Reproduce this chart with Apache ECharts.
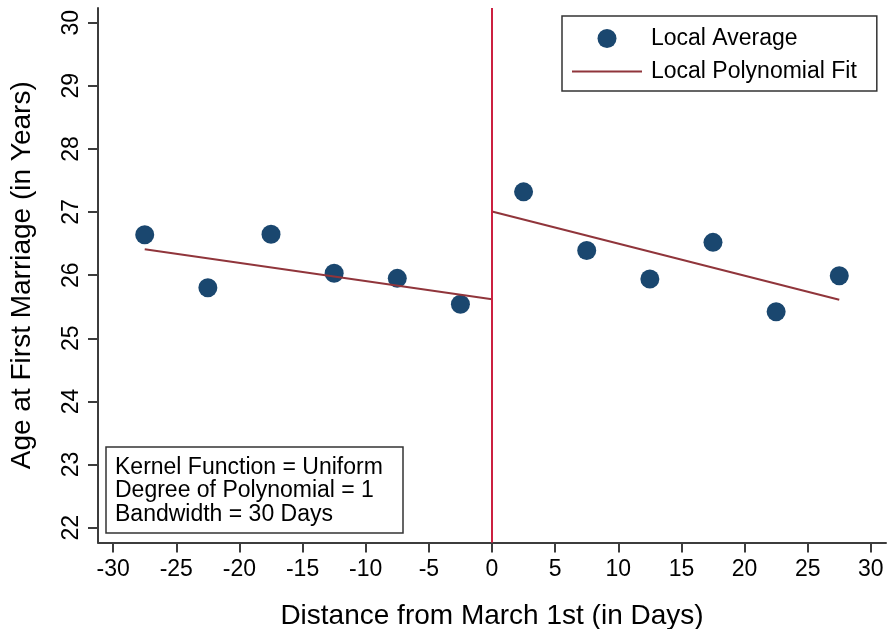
<!DOCTYPE html>
<html>
<head>
<meta charset="utf-8">
<script src="https://cdn.jsdelivr.net/npm/echarts@6/dist/echarts.min.js"></script>
<style>
  html, body { margin: 0; padding: 0; background: #fff; }
  #chart { width: 889px; height: 629px; }
</style>
</head>
<body>
<div id="chart"></div>
<script>
// Bin centres (days from March 1st) and the local averages of age at first marriage
const binCenters = [-27.5, -22.5, -17.5, -12.5, -7.5, -2.5, 2.5, 7.5, 12.5, 17.5, 22.5, 27.5];
const localAverages = [26.64, 25.80, 26.65, 26.03, 25.95, 25.54, 27.32, 26.39, 25.94, 26.52, 25.42, 25.99];

// Linear fits on each side of the cutoff
const fitLeftX = [-27.5, 0];
const fitLeftY = [26.41, 25.62];
const fitRightX = [0, 27.5];
const fitRightY = [27.01, 25.61];

const cutoff = 0;

// Tick labels
const xTicks = [-30, -25, -20, -15, -10, -5, 0, 5, 10, 15, 20, 25, 30];
const yTicks = [22, 23, 24, 25, 26, 27, 28, 29, 30];

const noteLines = ['Kernel Function = Uniform', 'Degree of Polynomial = 1', 'Bandwidth = 30 Days'];

const FONT = "'Liberation Sans', Arial, Helvetica, sans-serif";
const AXIS_COLOR = '#3c3c3c';
const DOT_COLOR = '#1a476f';
const FIT_COLOR = '#90353b';
const CUT_COLOR = '#cc2040';

const zip = (xs, ys) => xs.map((x, i) => [x, ys[i]]);

const chart = echarts.init(document.getElementById('chart'), null, { renderer: 'canvas' });

chart.setOption({
  animation: false,
  backgroundColor: '#fff',
  textStyle: { fontFamily: FONT },
  grid: { left: 98, right: 3, top: 8, bottom: 86.5, containLabel: false, outerBoundsMode: 'none' },
  xAxis: {
    type: 'value',
    min: -31.2,
    max: 31.2,
    name: 'Distance from March 1st (in Days)',
    nameLocation: 'middle',
    nameGap: 60,
    nameTextStyle: { fontSize: 28, color: '#000', fontFamily: FONT },
    axisLine: { onZero: false, lineStyle: { color: AXIS_COLOR, width: 2 } },
    axisTick: { show: true, length: 10, customValues: xTicks, lineStyle: { color: AXIS_COLOR, width: 2 } },
    axisLabel: { customValues: xTicks, fontSize: 23, color: '#000', margin: 16, fontFamily: FONT },
    splitLine: { show: false }
  },
  yAxis: {
    type: 'value',
    min: 21.765,
    max: 30.233,
    name: 'Age at First Marriage (in Years)',
    nameLocation: 'middle',
    nameGap: 62,
    nameRotate: 90,
    nameTextStyle: { fontSize: 28, color: '#000', fontFamily: FONT },
    axisLine: { show: true, onZero: false, lineStyle: { color: AXIS_COLOR, width: 2 } },
    axisTick: { show: true, length: 10, customValues: yTicks, lineStyle: { color: AXIS_COLOR, width: 2 } },
    axisLabel: { customValues: yTicks, rotate: 90, fontSize: 23, color: '#000', margin: 15, fontFamily: FONT },
    splitLine: { show: false }
  },
  legend: {
    orient: 'vertical',
    left: 562,
    top: 16,
    padding: [11, 20, 8, 10],
    itemWidth: 70,
    itemHeight: 19,
    itemGap: 10,
    borderColor: '#333',
    borderWidth: 1.5,
    backgroundColor: '#fff',
    textStyle: { fontSize: 23, color: '#000', fontFamily: FONT, padding: [3, 0, 0, 4] },
    data: [
      { name: 'Local Average', icon: 'circle' },
      { name: 'Local Polynomial Fit', icon: 'path://M0,0 L70,0 L70,2 L0,2 Z' }
    ]
  },
  series: [
    {
      name: 'Local Average',
      type: 'scatter',
      z: 2,
      symbol: 'circle',
      symbolSize: 19,
      itemStyle: { color: DOT_COLOR, opacity: 1 },
      data: zip(binCenters, localAverages),
      markLine: {
        silent: true,
        symbol: ['none', 'none'],
        label: { show: false },
        lineStyle: { color: CUT_COLOR, width: 2, type: 'solid' },
        data: [{ xAxis: cutoff }]
      }
    },
    {
      name: 'Local Polynomial Fit',
      type: 'line',
      z: 3,
      symbol: 'none',
      lineStyle: { color: FIT_COLOR, width: 2 },
      itemStyle: { color: FIT_COLOR },
      data: zip(fitLeftX, fitLeftY)
    },
    {
      name: 'Local Polynomial Fit',
      type: 'line',
      z: 3,
      symbol: 'none',
      lineStyle: { color: FIT_COLOR, width: 2 },
      itemStyle: { color: FIT_COLOR },
      data: zip(fitRightX, fitRightY)
    }
  ],
  graphic: [
    {
      type: 'rect',
      z: 10,
      shape: { x: 106, y: 447, width: 297, height: 86 },
      style: { fill: '#fff', stroke: '#333', lineWidth: 1.5 }
    },
    {
      type: 'text',
      z: 11,
      x: 115,
      y: 456,
      style: {
        text: noteLines.join('\n'),
        font: '23px ' + FONT,
        lineHeight: 23.3,
        fill: '#000',
        verticalAlign: 'top',
        align: 'left'
      }
    }
  ]
});
</script>
</body>
</html>
